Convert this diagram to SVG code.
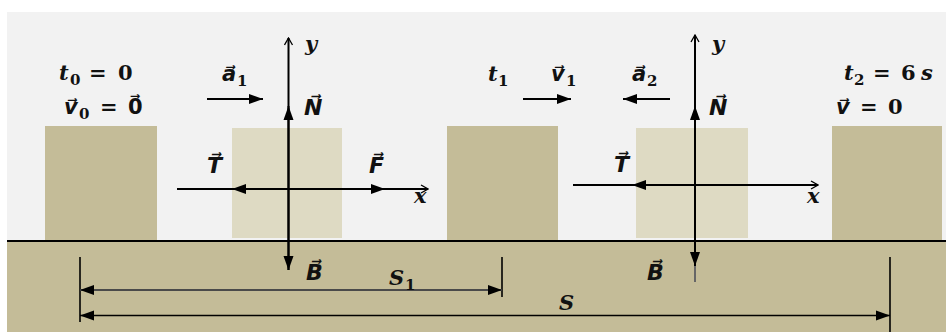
<svg xmlns="http://www.w3.org/2000/svg" width="946" height="332" viewBox="0 0 946 332">
<defs>
<style>
.bg{fill:#f2f2f2}
.dark{fill:#c4bc98}
.light{fill:#dedac3}
.ln{stroke:#000;stroke-width:2;fill:none}
.lbl{font-family:"DejaVu Serif","DejaVu Sans",serif;font-size:21px;font-weight:bold;fill:#111}
.it{font-style:italic}
.cap{font-size:22px}
.sub{font-size:15px;font-style:normal}
</style>
<marker id="fa" markerUnits="userSpaceOnUse" markerWidth="14" markerHeight="12" refX="14" refY="6" orient="auto-start-reverse">
<path d="M0,1 L14,6 L0,11 z" fill="#000"/>
</marker>
<marker id="oa" markerUnits="userSpaceOnUse" markerWidth="9" markerHeight="10" refX="8" refY="5" orient="auto">
<path d="M1,1 L8,5 L1,9" fill="none" stroke="#000" stroke-width="1.3"/>
</marker>
</defs>
<rect x="0" y="0" width="946" height="332" fill="#fff"/>
<rect class="bg" x="7" y="12" width="939" height="229"/>
<g id="ground">
<rect class="dark" x="7" y="241" width="939" height="91"/>
<line x1="7" y1="241" x2="946" y2="241" stroke="#000" stroke-width="2"/>
</g>
<g id="block1"><rect class="dark" x="45" y="126" width="112" height="114"/></g>
<g id="block2"><rect class="light" x="232" y="128" width="110" height="110"/></g>
<g id="block3"><rect class="dark" x="447" y="126" width="111" height="114"/></g>
<g id="block4"><rect class="light" x="636" y="128" width="112" height="110"/></g>
<g id="block5"><rect class="dark" x="832" y="126" width="110" height="114"/></g>
<g id="connectors">
<line class="ln" x1="288.5" y1="270" x2="288.5" y2="38" marker-end="url(#oa)"/>
<line class="ln" x1="288.5" y1="189" x2="288.5" y2="106" marker-end="url(#fa)"/>
<line class="ln" x1="288.5" y1="189" x2="288.5" y2="270" marker-end="url(#fa)"/>
<line class="ln" x1="177" y1="189" x2="428" y2="189" stroke-width="1.6" marker-end="url(#oa)"/>
<line class="ln" x1="288" y1="189" x2="232" y2="189" stroke-width="1.6" marker-end="url(#fa)"/>
<line class="ln" x1="288" y1="189" x2="385" y2="189" stroke-width="1.6" marker-end="url(#fa)"/>
<line class="ln" x1="207" y1="99" x2="263" y2="99" marker-end="url(#fa)"/>
<line class="ln" x1="523" y1="99" x2="571" y2="99" marker-end="url(#fa)"/>
<line class="ln" x1="670" y1="99" x2="623" y2="99" marker-end="url(#fa)"/>
<line class="ln" x1="695" y1="266" x2="695" y2="35" marker-end="url(#oa)"/>
<line x1="695" y1="264" x2="695" y2="282" stroke="#666" stroke-width="2"/>
<line class="ln" x1="695" y1="185" x2="695" y2="106" marker-end="url(#fa)"/>
<line class="ln" x1="695" y1="185" x2="695" y2="266" marker-end="url(#fa)"/>
<line class="ln" x1="573" y1="185" x2="818" y2="185" stroke-width="1.6" marker-end="url(#oa)"/>
<line class="ln" x1="695" y1="185" x2="632" y2="185" stroke-width="1.6" marker-end="url(#fa)"/>
<line x1="80" y1="257" x2="80" y2="322" stroke="#000" stroke-width="1.6"/>
<line x1="502" y1="257" x2="502" y2="297" stroke="#000" stroke-width="1.6"/>
<line x1="890" y1="257" x2="890" y2="332" stroke="#000" stroke-width="1.6"/>
<line x1="80" y1="290" x2="502" y2="290" stroke="#4a4a4a" stroke-width="2" marker-start="url(#fa)" marker-end="url(#fa)"/>
<line x1="80" y1="315.5" x2="890" y2="315.5" stroke="#000" stroke-width="1.6" marker-start="url(#fa)" marker-end="url(#fa)"/>
</g>
<g id="labels" class="lbl">
<text x="59" y="80"><tspan class="it">t</tspan><tspan class="sub" x="70" y="85">0</tspan><tspan x="89" y="80">=</tspan><tspan x="118" y="80">0</tspan></text>
<text x="64" y="114"><tspan class="it">v⃗</tspan><tspan class="sub" x="79" y="119">0</tspan><tspan x="100" y="114">=</tspan><tspan x="128" y="114">0⃗</tspan></text>
<text x="222" y="81"><tspan class="it">a⃗</tspan><tspan class="sub" x="237" y="86">1</tspan></text>
<text x="305" y="51" class="it">y</text>
<text x="304" y="115" class="it cap">N⃗</text>
<text x="207" y="173" class="it cap">T⃗</text>
<text x="369" y="173" class="it cap">F⃗</text>
<text x="414" y="203" class="it">x</text>
<text x="306" y="280" class="it cap">B⃗</text>
<text x="389" y="285"><tspan class="it">S</tspan><tspan class="sub" x="405" y="290">1</tspan></text>
<text x="488" y="81"><tspan class="it">t</tspan><tspan class="sub" x="498" y="86">1</tspan></text>
<text x="551" y="81"><tspan class="it">v⃗</tspan><tspan class="sub" x="566" y="86">1</tspan></text>
<text x="632" y="81"><tspan class="it">a⃗</tspan><tspan class="sub" x="647" y="86">2</tspan></text>
<text x="712" y="51" class="it">y</text>
<text x="709" y="115" class="it cap">N⃗</text>
<text x="614" y="172" class="it cap">T⃗</text>
<text x="807" y="203" class="it">x</text>
<text x="647" y="280" class="it cap">B⃗</text>
<text x="559" y="310" class="it">S</text>
<text x="844" y="80"><tspan class="it">t</tspan><tspan class="sub" x="854" y="85">2</tspan><tspan x="873" y="80">=</tspan><tspan x="901" y="80">6</tspan><tspan class="it" x="921" y="80">s</tspan></text>
<text x="836" y="114"><tspan class="it">v⃗</tspan><tspan x="860" y="114">=</tspan><tspan x="888" y="114">0</tspan></text>
</g>
</svg>
